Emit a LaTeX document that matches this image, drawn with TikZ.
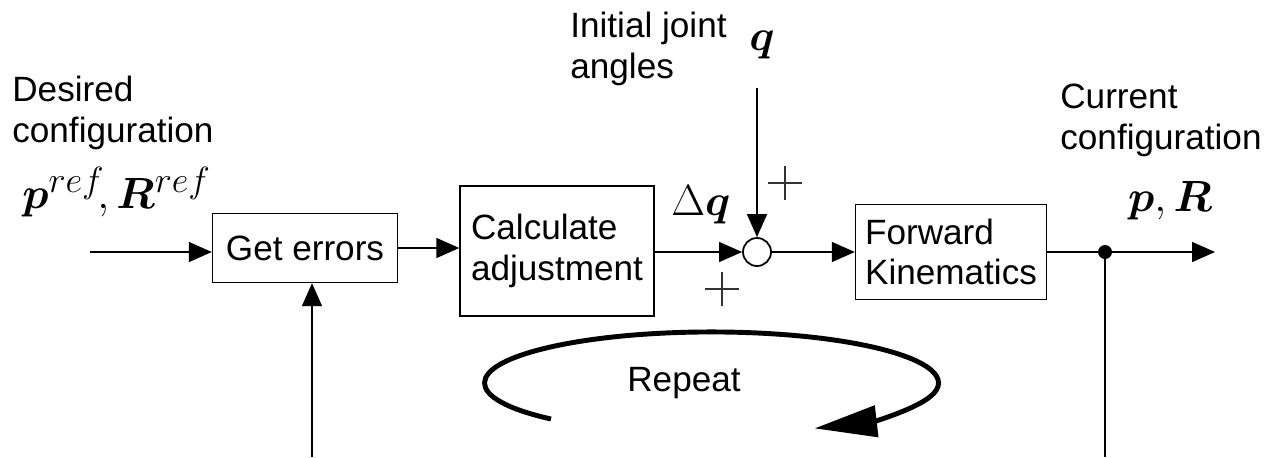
\documentclass[tikz,border=0pt]{standalone}
\usepackage{amsmath,bm}
\usepackage{fontspec}
\setmainfont{Liberation Sans}
\usepackage{tikz}
\usetikzlibrary{arrows.meta,calc,positioning}
\tikzset{
  bloque/.style={draw,line width=0.8pt,inner sep=0pt,font=\fontsize{20}{23}\selectfont,align=left},
  flecha/.style={line width=0.8pt,-{Triangle[length=0.46cm,width=0.4cm]}},
  linea/.style={line width=0.8pt},
  texto/.style={font=\fontsize{20}{23}\selectfont,align=left,inner sep=0pt},
  mate/.style={font=\fontsize{30}{34}\selectfont,inner sep=0pt},
  mas/.pic={\draw[line width=0.6pt,black!80] (-17,0)--(17,0) (0,-17)--(0,17);}
}

\begin{document}
\begin{tikzpicture}[x=0.02cm,y=-0.02cm]
\useasboundingbox (0,0) rectangle (1266,457);
% bloques
\node[bloque,minimum width=3.7cm,minimum height=1.38cm] (errores) at (305,248) {Get errors};
\node[bloque,minimum width=3.88cm,minimum height=2.6cm] (ajuste) at (557,251) {Calculate\\adjustment};
\node[draw,circle,line width=1pt,minimum size=0.56cm,inner sep=0pt] (suma) at (757,252) {};
\node[bloque,minimum width=3.82cm,minimum height=1.9cm] (cinematica) at (951,252) {Forward\\Kinematics};
\node[circle,fill=black,minimum size=0.28cm,inner sep=0pt] (punto) at (1105,252) {};
\coordinate (entrada) at (90,252);
\coordinate (salida) at (1215,252);
\coordinate (qarriba) at (757,88);
\coordinate (abajoi) at (312,457);
\coordinate (abajod) at (1105,457);
% conexiones
\draw[flecha] (entrada) -- (entrada -| errores.west);
\draw[flecha] (errores.east) -- (errores.east -| ajuste.west);
\draw[flecha] (ajuste.east |- suma) -- (suma.west);
\draw[flecha] (qarriba) -- (suma.north);
\draw[flecha] (suma.east) -- (suma -| cinematica.west);
\draw[linea] (cinematica.east |- punto) -- (punto);
\draw[flecha] (punto) -- (salida);
\draw[linea] (punto) -- (abajod);
\draw[flecha] (abajoi) -- (abajoi |- errores.south);
% signos
\pic at (785,183) {mas};
\pic at (722,289) {mas};
% textos
\node[texto,anchor=north west] (deseada) at (12,76) {Desired\\configuration};
\node[mate,anchor=west] (pref) at (22,192) {$\bm{p}^{ref}\!,\bm{R}^{ref}$};
\node[texto,anchor=north west] (inicial) at (570,12) {Initial joint\\angles};
\node[mate] (q) at (762,45) {$\bm{q}$};
\node[mate] (dq) at (701,205) {$\Delta\bm{q}$};
\node[texto,anchor=north west] (actual) at (1060,84) {Current\\configuration};
\node[mate] (pr) at (1170,201) {$\bm{p},\bm{R}$};
% repetir
\draw[line width=2.8pt,-{Triangle[length=1.25cm,width=0.62cm]}] (551,419) arc[start angle=135,end angle=423,x radius=227,y radius=51];
\node[texto] (repetir) at (684,383) {Repeat};
\end{tikzpicture}
\end{document}
